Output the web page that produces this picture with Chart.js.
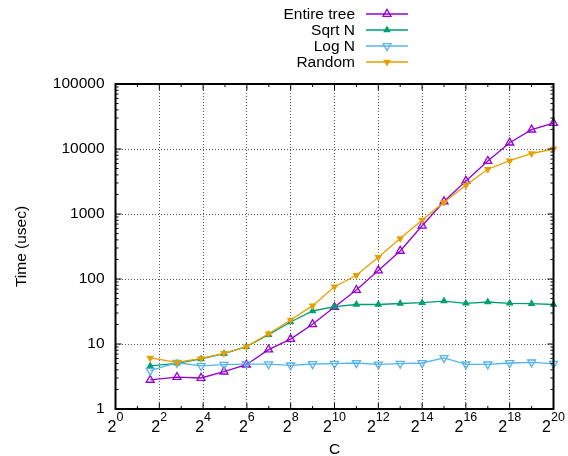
<!DOCTYPE html>
<html>
<head>
<meta charset="utf-8">
<script src="https://cdn.jsdelivr.net/npm/chart.js"></script>
<style>
  html, body { margin: 0; padding: 0; background: #fff; }
  canvas { display: block; }
</style>
</head>
<body>
<canvas id="chart" width="568" height="456"></canvas>
<script>
// Lookup cost versus C, one series per strategy.
const cValues = [3, 7, 15, 31, 63, 127, 255, 511, 1023, 2047, 4095, 8191,
                 16383, 32767, 65535, 131071, 262143, 524287, 1048575];
const entireTree = [2.8, 3.1, 3.0, 3.75, 4.8, 8.2, 11.9, 20.1, 37, 67.6, 135, 270,
                    660, 1560, 3230, 6530, 12500, 19800, 25100];
const sqrtN = [4.6, 5.05, 5.9, 7.1, 9.1, 13.9, 21.8, 32.2, 37.5, 40.5, 40.5, 42.0,
               43.2, 45.8, 42.3, 44.3, 42.3, 41.7, 40.5];
const logN = [3.9, 5.15, 4.6, 4.8, 4.9, 4.9, 4.7, 4.92, 4.98, 5.1, 4.85, 4.98,
              5.1, 6.1, 4.87, 4.87, 5.1, 5.23, 4.98];
const randomPick = [6.1, 5.2, 6.0, 7.2, 9.1, 14.4, 23.4, 38.9, 76, 114, 217, 420,
                    809, 1510, 2770, 4880, 6610, 8530, 10000];
const seriesNames = ['Entire tree', 'Sqrt N', 'Log N', 'Random'];
const xTickExponents = [0, 2, 4, 6, 8, 10, 12, 14, 16, 18, 20];
const yTickValues = [1, 10, 100, 1000, 10000, 100000];
const yTickLabels = ['1', '10', '100', '1000', '10000', '100000'];

const FONT = '"Liberation Sans", Arial, sans-serif';
const TEXT_SIZE = 15.5;
const styles = [
  { color: '#9400d3', radius: 4.6, down: false, filled: false },
  { color: '#009e73', radius: 3.2, down: false, filled: true },
  { color: '#56b4e9', radius: 4.6, down: true,  filled: false },
  { color: '#e69f00', radius: 3.2, down: true,  filled: true }
];
const seriesValues = [entireTree, sqrtN, logN, randomPick];

const datasets = seriesValues.map((vals, i) => ({
  label: seriesNames[i],
  data: cValues.map((c, j) => ({ x: c, y: vals[j] })),
  borderColor: styles[i].color,
  backgroundColor: styles[i].color,
  borderWidth: 1.3,
  pointStyle: 'triangle',
  pointRotation: styles[i].down ? 180 : 0,
  pointRadius: styles[i].radius,
  pointBorderWidth: 1.3,
  pointBorderColor: styles[i].color,
  pointBackgroundColor: styles[i].filled ? styles[i].color : 'rgba(0,0,0,0)',
  tension: 0,
  clip: 8,
  order: seriesValues.length - i
}));

function triangle(ctx, x, y, r, down, filled, color) {
  const s = down ? -1 : 1;
  ctx.beginPath();
  ctx.moveTo(x, y - s * r);
  ctx.lineTo(x + r * 0.866, y + s * r * 0.5);
  ctx.lineTo(x - r * 0.866, y + s * r * 0.5);
  ctx.closePath();
  if (filled) { ctx.fillStyle = color; ctx.fill(); }
  ctx.strokeStyle = color; ctx.lineWidth = 1.3; ctx.stroke();
}

// Frame with inward major/minor ticks on all four sides, plus key and x labels.
const framePlugin = {
  id: 'frame',
  afterDatasetsDraw(chart) {
    const { ctx, chartArea: a, scales: { x, y } } = chart;
    ctx.save();
    ctx.strokeStyle = '#000';
    ctx.lineWidth = 1;
    ctx.beginPath();
    for (let d = 0; d < 5; d++) {
      for (let k = 1; k <= 9; k++) {
        if (k === 1 && d === 0) continue;
        const py = y.getPixelForValue(k * Math.pow(10, d));
        const len = k === 1 ? 6 : 3;
        ctx.moveTo(a.left, py); ctx.lineTo(a.left + len, py);
        ctx.moveTo(a.right, py); ctx.lineTo(a.right - len, py);
      }
    }
    for (let e = 1; e < 20; e++) {
      const px = x.getPixelForValue(Math.pow(2, e));
      const len = e % 2 === 0 ? 6 : 3;
      ctx.moveTo(px, a.bottom); ctx.lineTo(px, a.bottom - len);
      ctx.moveTo(px, a.top); ctx.lineTo(px, a.top + len);
    }
    ctx.stroke();
    ctx.lineWidth = 2;
    ctx.strokeRect(a.left, a.top, a.right - a.left, a.bottom - a.top);
    ctx.restore();
  },
  afterDraw(chart) {
    const { ctx, chartArea: a, scales: { x } } = chart;
    ctx.save();
    ctx.fillStyle = '#000';
    ctx.textBaseline = 'alphabetic';
    ctx.textAlign = 'left';
    const baseFont = '16px ' + FONT, supFont = '12.5px ' + FONT;
    xTickExponents.forEach(e => {
      const px = x.getPixelForValue(Math.pow(2, e));
      ctx.font = baseFont; const wb = ctx.measureText('2').width;
      ctx.font = supFont; const we = ctx.measureText(String(e)).width;
      const x0 = px - (wb + we) / 2;
      ctx.font = baseFont; ctx.fillText('2', x0, a.bottom + 22.5);
      ctx.font = supFont; ctx.fillText(String(e), x0 + wb, a.bottom + 12);
    });

    // key
    ctx.font = TEXT_SIZE + 'px ' + FONT;
    ctx.textAlign = 'right';
    ctx.textBaseline = 'middle';
    seriesNames.forEach((name, i) => {
      const ky = 14 + i * 16;
      ctx.fillStyle = '#000';
      ctx.fillText(name, 355, ky + 1);
      const st = styles[i];
      ctx.strokeStyle = st.color; ctx.lineWidth = 1.3;
      ctx.beginPath(); ctx.moveTo(366, ky); ctx.lineTo(408, ky); ctx.stroke();
      triangle(ctx, 387, ky, st.radius, st.down, st.filled, st.color);
    });
    ctx.restore();
  }
};

new Chart(document.getElementById('chart'), {
  type: 'line',
  data: { datasets },
  options: {
    responsive: false,
    animation: false,
    devicePixelRatio: 1,
    layout: { padding: { top: 84, right: 14.5, left: 0, bottom: 0 } },
    plugins: { legend: { display: false }, tooltip: { enabled: false } },
    scales: {
      x: {
        type: 'logarithmic',
        min: 1,
        max: 1048576,
        afterBuildTicks: s => { s.ticks = xTickExponents.map(e => ({ value: Math.pow(2, e) })); },
        afterFit: s => { s.height = 47; },
        ticks: { display: false },
        grid: { drawTicks: false, color: '#555', lineWidth: 1 },
        border: { display: false, dash: [1, 2] },
        title: {
          display: true, text: 'C', color: '#000',
          font: { family: FONT, size: TEXT_SIZE, lineHeight: 0.8 }, padding: 0
        }
      },
      y: {
        type: 'logarithmic',
        min: 1,
        max: 100000,
        afterBuildTicks: s => { s.ticks = yTickValues.map(v => ({ value: v })); },
        afterFit: s => { s.width = 115.5; },
        ticks: {
          callback: (v, i) => yTickLabels[i],
          color: '#000',
          font: { family: FONT, size: TEXT_SIZE },
          padding: 11,
          autoSkip: false
        },
        grid: { drawTicks: false, color: '#555', lineWidth: 1 },
        border: { display: false, dash: [1, 2] },
        title: {
          display: true, text: 'Time (usec)', color: '#000',
          font: { family: FONT, size: TEXT_SIZE, lineHeight: 1 }, padding: { top: 14, bottom: 0 }
        }
      }
    }
  },
  plugins: [framePlugin]
});
</script>
</body>
</html>
